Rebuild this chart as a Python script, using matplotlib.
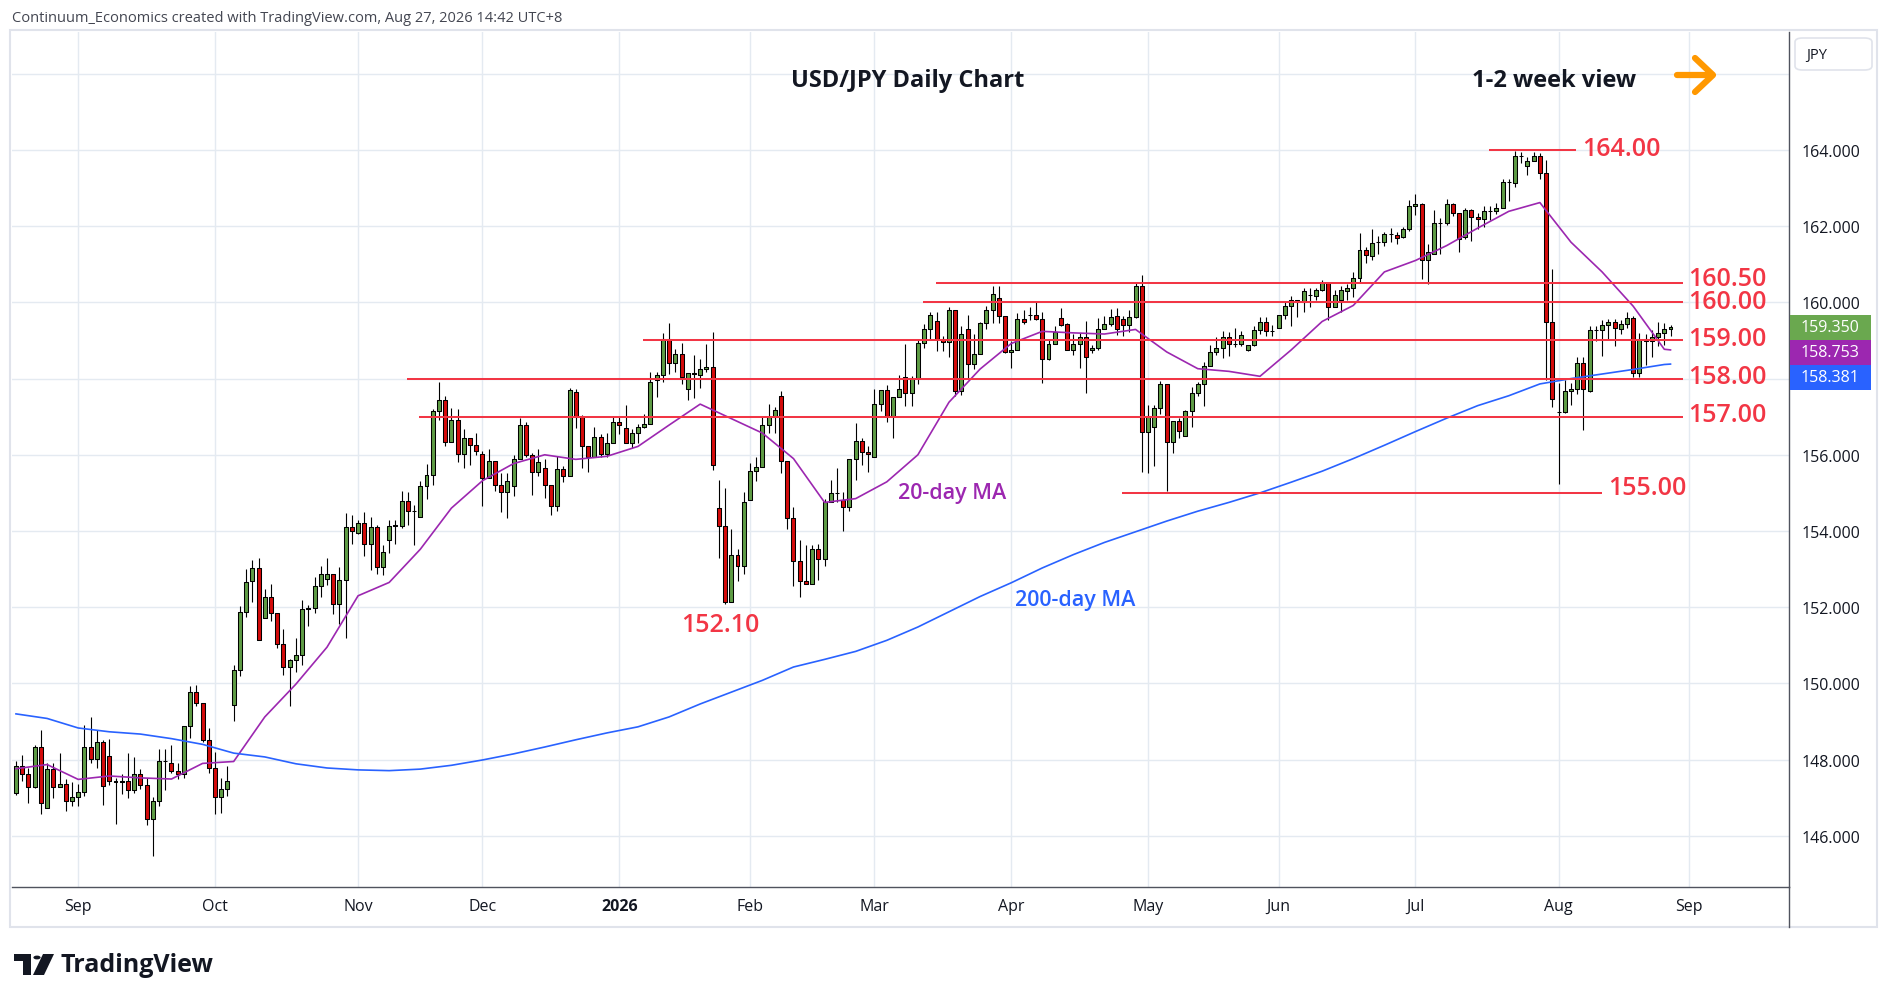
import numpy as np
import pandas as pd
import matplotlib
matplotlib.use("Agg")
import matplotlib.pyplot as plt
from matplotlib.patches import Rectangle, FancyBboxPatch, Polygon, Circle
from matplotlib.collections import LineCollection, PatchCollection
from matplotlib.lines import Line2D

# ---------------- data (USD/JPY daily) ----------------
first_day = "2025-08-18"
holidays = ["2025-12-25", "2026-01-01"]

opens = [
    147.13, 147.83, 147.63, 147.29, 148.34, 146.74, 147.76, 147.29, 147.37, 146.92,
    147.03, 147.16, 148.34, 148.01, 148.47, 148.10, 147.45, 147.40, 147.45, 147.19,
    147.63, 147.34, 146.45, 146.92, 147.95, 147.92, 147.69, 147.63, 148.89, 149.78,
    149.48, 148.52, 147.79, 147.03, 147.24, 149.42, 150.34, 151.88, 152.69, 153.04,
    151.72, 152.27, 151.85, 151.03, 150.44, 150.61, 150.74, 151.94, 151.98, 152.56,
    152.75, 152.87, 152.08, 152.71, 154.11, 153.95, 154.22, 153.66, 154.11, 153.06,
    153.76, 154.14, 154.14, 154.79, 154.53, 154.37, 155.19, 155.48, 157.15, 157.43,
    156.34, 156.91, 156.03, 156.45, 156.27, 156.03, 155.40, 155.85, 155.20, 155.03,
    155.17, 155.90, 156.79, 155.99, 155.56, 155.66, 155.20, 154.66, 155.64, 155.45,
    157.66, 156.99, 156.22, 155.95, 156.48, 156.03, 156.32, 156.85, 156.70, 156.32,
    156.58, 156.74, 156.82, 157.96, 158.10, 159.05, 158.42, 158.64, 157.74, 158.13,
    158.10, 158.24, 158.31, 154.61, 154.12, 152.14, 153.38, 153.07, 154.81, 155.58,
    155.69, 156.79, 157.00, 157.55, 155.84, 154.35, 153.21, 152.69, 152.62, 153.52,
    153.26, 154.75, 154.99, 154.81, 154.64, 155.88, 156.35, 156.08, 155.93, 157.34,
    157.69, 157.02, 157.53, 158.03, 157.63, 158.02, 158.94, 159.31, 159.51, 159.04,
    158.97, 159.81, 157.67, 159.29, 158.39, 158.65, 159.45, 159.79, 160.12, 159.64,
    158.70, 158.76, 159.57, 159.68, 159.68, 159.57, 158.52, 158.91, 159.59, 159.42,
    158.76, 158.92, 159.10, 158.74, 158.79, 159.31, 159.42, 159.63, 159.56, 159.41,
    159.61, 160.42, 156.59, 156.74, 157.22, 157.87, 156.33, 156.88, 156.50, 157.14,
    157.61, 157.86, 158.34, 158.71, 158.79, 159.08, 158.92, 158.92, 158.75, 158.88,
    159.28, 159.49, 159.26, 159.34, 159.67, 159.90, 160.06, 160.02, 160.19, 160.16,
    160.33, 160.52, 159.87, 160.05, 160.31, 160.37, 160.63, 161.38, 161.21, 161.58,
    161.58, 161.80, 161.78, 161.71, 161.93, 162.52, 162.57, 161.10, 161.27, 162.08,
    162.08, 162.57, 162.35, 161.71, 162.43, 162.25, 162.19, 162.39, 162.39, 162.47,
    163.15, 163.13, 163.85, 163.57, 163.72, 163.83, 163.39, 159.49, 157.13, 157.13,
    157.68, 157.74, 158.40, 157.68, 159.27, 159.27, 159.41, 159.48, 159.30, 159.43,
    159.58, 158.14, 159.04, 158.98, 159.08, 159.19, 159.30,
]
highs = [
    147.97, 148.11, 147.79, 148.39, 148.77, 147.92, 147.90, 148.17, 147.48, 147.40,
    147.37, 148.92, 149.13, 148.77, 148.51, 148.55, 147.53, 147.63, 148.17, 148.06,
    147.76, 147.53, 147.03, 148.27, 148.27, 148.37, 147.92, 148.89, 149.92, 149.96,
    149.48, 148.84, 148.21, 147.51, 147.82, 150.48, 152.04, 153.00, 153.25, 153.28,
    152.47, 152.62, 151.85, 151.42, 150.65, 151.20, 152.20, 152.07, 152.80, 153.08,
    153.28, 152.87, 153.06, 154.46, 154.43, 154.30, 154.50, 154.37, 154.15, 153.63,
    154.29, 154.29, 155.06, 155.03, 154.68, 155.32, 155.75, 157.19, 157.92, 157.55,
    157.22, 157.20, 156.69, 156.45, 156.58, 156.10, 156.16, 155.85, 155.53, 155.53,
    156.00, 156.96, 156.85, 156.06, 156.15, 155.88, 155.20, 155.97, 155.71, 157.76,
    157.72, 157.04, 156.22, 156.73, 156.54, 156.57, 156.98, 157.00, 157.30, 156.67,
    156.80, 157.06, 158.18, 158.18, 159.19, 159.45, 158.77, 158.93, 158.14, 158.61,
    158.52, 158.90, 159.22, 155.33, 155.12, 154.05, 153.52, 155.03, 155.78, 155.93,
    157.02, 157.33, 157.26, 157.68, 155.84, 154.63, 153.76, 153.63, 153.63, 153.65,
    154.85, 155.33, 155.65, 155.03, 155.88, 156.83, 156.43, 156.22, 157.74, 157.69,
    157.83, 157.53, 158.09, 158.90, 158.06, 159.04, 159.42, 159.74, 159.74, 159.13,
    159.88, 159.81, 159.38, 159.66, 159.17, 159.49, 159.90, 160.43, 160.44, 159.64,
    158.98, 159.73, 159.81, 159.88, 160.01, 159.74, 159.01, 159.38, 159.86, 159.46,
    159.16, 159.20, 159.51, 158.87, 159.59, 159.64, 159.83, 159.84, 159.65, 159.81,
    160.51, 160.73, 157.31, 157.31, 157.93, 157.87, 156.88, 156.96, 157.18, 157.79,
    157.92, 158.43, 158.88, 159.08, 159.26, 159.23, 159.34, 159.26, 158.88, 159.39,
    159.61, 159.61, 159.41, 159.67, 160.00, 160.17, 160.06, 160.39, 160.39, 160.39,
    160.59, 160.52, 160.33, 160.44, 160.48, 160.79, 161.81, 161.45, 161.93, 161.73,
    161.84, 161.94, 161.84, 161.97, 162.70, 162.85, 162.60, 161.53, 162.43, 162.21,
    162.71, 162.60, 162.35, 162.47, 162.45, 162.34, 162.54, 162.54, 162.60, 163.24,
    163.24, 163.98, 163.94, 163.81, 163.94, 163.92, 163.74, 160.88, 157.88, 157.97,
    157.88, 158.57, 158.57, 159.39, 159.39, 159.55, 159.56, 159.56, 159.55, 159.76,
    159.63, 159.20, 159.17, 159.27, 159.49, 159.46, 159.41,
]
lows = [
    147.06, 147.44, 146.86, 147.26, 146.57, 146.74, 147.00, 147.29, 146.65, 146.77,
    146.78, 147.05, 147.90, 147.79, 146.81, 147.34, 146.32, 147.11, 147.00, 147.13,
    147.24, 146.29, 145.47, 146.77, 147.20, 147.64, 147.48, 147.53, 148.57, 149.41,
    148.46, 147.66, 146.57, 146.61, 147.05, 149.01, 150.20, 151.74, 152.14, 151.14,
    151.72, 151.64, 150.93, 150.22, 149.40, 150.30, 150.48, 151.51, 151.85, 152.27,
    152.58, 151.81, 151.56, 151.19, 153.67, 153.93, 153.34, 152.97, 152.87, 152.84,
    153.43, 153.67, 154.07, 154.15, 153.63, 154.37, 154.84, 155.22, 156.91, 156.23,
    156.34, 155.81, 155.66, 155.73, 156.00, 154.66, 155.40, 155.05, 154.51, 154.35,
    154.92, 155.90, 155.94, 154.95, 155.45, 154.86, 154.41, 154.53, 155.29, 155.45,
    156.71, 155.66, 155.55, 155.95, 155.93, 155.93, 156.32, 156.54, 156.32, 156.17,
    156.32, 156.70, 156.82, 157.52, 157.91, 158.11, 158.17, 157.85, 157.44, 157.50,
    157.75, 158.17, 155.59, 153.30, 152.09, 152.14, 152.69, 152.86, 154.81, 155.30,
    155.69, 156.57, 156.58, 155.53, 154.06, 152.56, 152.28, 152.62, 152.62, 152.72,
    153.08, 154.75, 154.75, 154.00, 154.53, 155.34, 155.73, 155.55, 155.93, 157.15,
    156.86, 156.45, 157.53, 157.28, 157.28, 157.85, 158.79, 159.01, 158.72, 158.72,
    158.57, 157.54, 157.58, 158.00, 158.24, 158.65, 159.31, 159.46, 159.45, 158.68,
    158.28, 158.76, 159.44, 159.53, 159.55, 157.89, 158.50, 158.90, 159.38, 158.75,
    158.63, 158.28, 157.61, 158.68, 158.76, 159.29, 159.39, 159.14, 159.13, 159.21,
    159.58, 155.56, 155.51, 155.70, 157.07, 155.04, 156.04, 156.44, 156.50, 156.74,
    157.55, 157.29, 158.34, 158.63, 158.54, 158.60, 158.82, 158.86, 158.73, 158.85,
    159.17, 159.11, 159.11, 159.32, 159.56, 159.39, 159.61, 159.74, 159.87, 160.07,
    160.29, 159.55, 159.87, 159.76, 160.05, 160.13, 160.51, 161.03, 161.10, 161.27,
    161.47, 161.58, 161.53, 161.68, 161.88, 162.29, 160.61, 160.48, 161.27, 161.27,
    162.04, 162.26, 161.31, 161.66, 161.62, 161.93, 161.97, 162.15, 162.32, 162.47,
    162.67, 163.02, 163.66, 163.35, 163.72, 163.24, 157.97, 157.25, 155.23, 157.11,
    157.31, 157.59, 156.66, 157.64, 158.99, 158.60, 159.04, 158.86, 159.17, 159.34,
    158.05, 158.05, 158.36, 158.56, 158.85, 158.88, 159.13,
]
closes = [
    147.83, 147.63, 147.29, 148.34, 146.86, 147.76, 147.29, 147.37, 146.92, 147.03,
    147.16, 148.34, 148.01, 148.47, 147.32, 147.45, 147.40, 147.45, 147.19, 147.63,
    147.34, 146.45, 146.92, 147.97, 147.97, 147.69, 147.63, 148.89, 149.78, 149.48,
    148.52, 147.79, 147.03, 147.24, 147.45, 150.34, 151.88, 152.67, 153.04, 151.14,
    152.27, 151.85, 151.03, 150.44, 150.61, 150.74, 151.94, 151.98, 152.56, 152.87,
    152.87, 152.08, 152.71, 154.11, 154.00, 154.22, 153.66, 154.11, 153.06, 153.44,
    154.14, 154.15, 154.79, 154.53, 154.53, 155.19, 155.48, 157.15, 157.43, 156.34,
    156.91, 156.03, 156.45, 156.27, 156.11, 155.40, 155.85, 155.20, 155.03, 155.32,
    155.90, 156.79, 155.99, 155.56, 155.80, 155.20, 154.66, 155.64, 155.45, 157.69,
    156.99, 156.22, 155.95, 156.48, 156.03, 156.32, 156.85, 156.78, 156.32, 156.58,
    156.74, 156.82, 157.90, 158.10, 159.05, 158.42, 158.64, 158.04, 158.14, 158.14,
    158.24, 158.31, 155.73, 154.12, 152.14, 153.38, 153.07, 154.76, 155.58, 155.69,
    156.79, 157.00, 157.17, 155.84, 154.35, 153.21, 152.69, 152.62, 153.52, 153.26,
    154.75, 154.99, 155.01, 154.64, 155.88, 156.35, 156.08, 156.01, 157.34, 157.69,
    157.02, 157.53, 157.74, 157.63, 158.02, 158.94, 159.31, 159.68, 159.04, 158.97,
    159.81, 157.67, 159.17, 158.39, 158.65, 159.45, 159.79, 160.23, 159.64, 158.70,
    158.76, 159.57, 159.49, 159.68, 159.57, 158.52, 158.91, 159.23, 159.40, 158.76,
    158.92, 159.10, 158.57, 158.79, 159.31, 159.42, 159.62, 159.30, 159.41, 159.61,
    160.42, 156.59, 157.01, 157.22, 157.87, 156.33, 156.88, 156.63, 157.14, 157.61,
    157.86, 158.34, 158.71, 158.79, 159.08, 158.91, 158.92, 159.15, 158.88, 159.28,
    159.49, 159.26, 159.26, 159.67, 159.90, 160.06, 160.02, 160.29, 160.19, 160.33,
    160.52, 159.87, 160.19, 160.33, 160.37, 160.63, 161.38, 161.24, 161.55, 161.58,
    161.80, 161.80, 161.68, 161.93, 162.52, 162.57, 161.10, 161.31, 162.08, 162.08,
    162.57, 162.34, 161.66, 162.43, 162.23, 162.19, 162.39, 162.39, 162.47, 163.15,
    163.15, 163.83, 163.85, 163.72, 163.83, 163.39, 159.49, 157.46, 157.13, 157.68,
    157.74, 158.40, 157.74, 159.27, 159.27, 159.41, 159.48, 159.32, 159.43, 159.58,
    158.14, 159.02, 158.99, 159.08, 159.19, 159.30, 159.35,
]

# moving averages read every 5th session (plus the last session)
ma_sample_step = 5
ma20 = [
    147.76, 147.87, 147.48, 147.57, 147.52, 147.49, 147.90, 147.95, 149.12, 149.98,
    150.95, 152.30, 152.65, 153.52, 154.60, 155.32, 155.77, 156.00, 155.88, 155.96,
    156.22, 156.78, 157.33, 156.95, 156.57, 155.90, 154.75, 154.85, 155.29, 156.00,
    157.38, 158.25, 158.92, 159.24, 159.20, 159.17, 159.29, 158.70, 158.26, 158.19,
    158.06, 158.75, 159.50, 159.92, 160.80, 161.10, 161.49, 161.95, 162.39, 162.62,
    161.58, 160.80, 159.90, 158.77, 158.753,
]
ma200 = [
    149.20, 149.08, 148.83, 148.73, 148.67, 148.55, 148.40, 148.17, 148.07, 147.89,
    147.78, 147.73, 147.71, 147.75, 147.85, 147.99, 148.15, 148.33, 148.52, 148.70,
    148.86, 149.12, 149.46, 149.77, 150.08, 150.43, 150.63, 150.84, 151.13, 151.48,
    151.88, 152.28, 152.64, 153.03, 153.38, 153.70, 153.98, 154.26, 154.52, 154.75,
    155.00, 155.28, 155.57, 155.90, 156.25, 156.61, 156.96, 157.29, 157.55, 157.86,
    158.00, 158.12, 158.24, 158.37, 158.381,
]

levels = [164.00, 160.50, 160.00, 159.00, 158.00, 157.00, 155.00]
level_texts = ["164.00", "160.50", "160.00", "159.00", "158.00", "157.00", "155.00"]
low_text = "152.10"
price_ticks = [146, 148, 150, 152, 154, 156, 158, 160, 162, 164]
grid_prices = [146, 148, 150, 152, 154, 156, 158, 160, 162, 164, 166]

title = "USD/JPY Daily Chart"
view_text = "1-2 week view"
header = "Continuum_Economics created with TradingView.com, Aug 27, 2026 14:42 UTC+8"

# ---------------- styling ----------------
W, H = 1889, 1003
plt.rcParams['font.family'] = ['Open Sans', 'DejaVu Sans']
GREEN = "#5e9c45"
RED = "#d40b0b"
LEVEL = "#f23645"
PURPLE = "#9c27b0"
BLUE = "#2962ff"
GRID = "#e4eaf1"
TXT = "#131722"

fig = plt.figure(figsize=(W / 100, H / 100), dpi=100)
fig.patch.set_facecolor("white")


def fx(px):
    return px / W


def fy(py):
    return 1 - py / H


ax = fig.add_axes([fx(12), fy(888), fx(1789) - fx(12), fy(33) - fy(888)])
ax.set_facecolor("white")

o = np.array(opens)
hi = np.array(highs)
lo = np.array(lows)
c = np.array(closes)
n = len(c)
xs = np.arange(n)

# dates for the axis
all_days = pd.bdate_range(first_day, "2026-10-30")
all_days = all_days[~all_days.isin(pd.to_datetime(holidays))]

x_min, x_max = -0.64, 285.05
y_min, y_max = 144.656, 167.097
ax.set_xlim(x_min, x_max)
ax.set_ylim(y_min, y_max)

# grid lines
for gp in grid_prices:
    ax.axhline(gp, color=GRID, lw=1.0, zorder=0)
month_pos, month_lab = [], []
prev = None
for i, d in enumerate(all_days):
    key = (d.year, d.month)
    if key != prev:
        if prev is not None and x_min <= i <= x_max:
            month_pos.append(i)
            month_lab.append(str(d.year) if d.month == 1 else d.strftime("%b"))
        prev = key
for mp in month_pos:
    ax.axvline(mp, color=GRID, lw=1.0, zorder=0)

# candles
bw = 0.64
wicks = [[(xi, lo[i]), (xi, hi[i])] for i, xi in enumerate(xs)]
ax.add_collection(LineCollection(wicks, colors="black", linewidths=0.8, zorder=3))
rects, cols = [], []
for i, xi in enumerate(xs):
    b0 = min(o[i], c[i])
    b1 = max(o[i], c[i])
    rects.append(Rectangle((xi - bw / 2, b0), bw, b1 - b0))
    cols.append(GREEN if c[i] >= o[i] else RED)
ax.add_collection(PatchCollection(rects, facecolors=cols, edgecolors="black",
                                  linewidths=0.75, zorder=4))

# moving averages
ma_x = list(range(0, n - 1, ma_sample_step)) + [n - 1]
ax.plot(ma_x, ma20, color=PURPLE, lw=1.2, zorder=5, solid_joinstyle="round")
ax.plot(ma_x, ma200, color=BLUE, lw=1.2, zorder=5, solid_joinstyle="round")

# level lines and labels
level_span = {164.00: (236.8, 250.8), 160.50: (147.9, 268.0), 160.00: (145.8, 268.0),
              159.00: (100.8, 268.0), 158.00: (62.9, 268.0), 157.00: (64.8, 268.0),
              155.00: (177.8, 255.0)}
label_pos = {164.00: (251.8, 164.05), 160.50: (268.8, 160.64), 160.00: (268.8, 160.02),
             159.00: (268.8, 159.05), 158.00: (268.8, 158.05), 157.00: (268.8, 157.05),
             155.00: (256.0, 155.13)}
for lv, lt in zip(levels, level_texts):
    a, b = level_span[lv]
    ax.plot([a, b], [lv, lv], color=LEVEL, lw=1.45, zorder=6, solid_capstyle="butt")
    tx, ty = label_pos[lv]
    ax.text(tx, ty, lt, color=LEVEL, fontsize=18, fontweight="semibold",
            ha="left", va="center", zorder=7)
ax.text(113.2, 151.55, low_text, color=LEVEL, fontsize=18, fontweight="semibold",
        ha="center", va="center")
ax.text(141.8, 155.0, "20-day MA", color=PURPLE, fontsize=15.5, fontweight="semibold",
        ha="left", va="center")
ax.text(160.6, 152.2, "200-day MA", color=BLUE, fontsize=15.5, fontweight="semibold",
        ha="left", va="center")

# axes cosmetics
for s in ["top", "left"]:
    ax.spines[s].set_visible(False)
ax.spines["right"].set_color("#50535e")
ax.spines["bottom"].set_color("#50535e")
ax.spines["right"].set_linewidth(1.0)
ax.spines["bottom"].set_linewidth(1.0)
ax.yaxis.tick_right()
ax.set_yticks(price_ticks)
ax.set_yticklabels([f"{p:.3f}" for p in price_ticks], fontsize=11.5, color=TXT)
ax.tick_params(axis="y", length=0, pad=9)
ax.set_xticks(month_pos)
ax.set_xticklabels(month_lab, fontsize=11.5, color=TXT)
ax.tick_params(axis="x", length=0, pad=8)
for t in ax.get_xticklabels():
    if t.get_text().isdigit():
        t.set_fontweight("bold")

# outer pane frame and axis extension
fig.add_artist(Rectangle((fx(10), fy(928)), fx(1877) - fx(10), fy(31) - fy(928),
                         transform=fig.transFigure, fill=False, edgecolor="#e0e3eb", lw=1.5))
fig.add_artist(Line2D([fx(1789), fx(1789)], [fy(888), fy(928)], transform=fig.transFigure,
                      color="#50535e", lw=1.0))

# JPY box
fig.add_artist(FancyBboxPatch((fx(1795), fy(71)), fx(1872) - fx(1795), fy(39) - fy(71),
                              boxstyle="round,pad=0,rounding_size=0.004",
                              transform=fig.transFigure, facecolor="white",
                              edgecolor="#e0e3eb", lw=1.2))
fig.text(fx(1806), fy(55), "JPY", fontsize=10.5, color=TXT, ha="left", va="center")

# price tags
fig.canvas.draw()
y_last = ax.transData.transform((0, c[-1]))[1]
tags = [(f"{c[-1]:.3f}", "#6aa84f"), (f"{ma20[-1]:.3f}", PURPLE), (f"{ma200[-1]:.3f}", BLUE)]
for k, (txt, col) in enumerate(tags):
    yc = y_last - 25 * k
    fig.add_artist(Rectangle((fx(1790), (yc - 12.5) / H), fx(1871) - fx(1790), 25 / H,
                             transform=fig.transFigure, facecolor=col, edgecolor="none"))
    fig.text(fx(1830), yc / H, txt, color="white", fontsize=11.5, ha="center", va="center")

# titles
fig.text(fx(908), fy(81), title, fontsize=17, fontweight="bold", color=TXT,
         ha="center", va="center")
fig.text(fx(1472), fy(81), view_text, fontsize=17, fontweight="bold", color=TXT,
         ha="left", va="center")
arrow_col = "#ff9800"
fig.add_artist(Line2D([fx(1677), fx(1711)], [fy(76), fy(76)], transform=fig.transFigure,
                      color=arrow_col, lw=4.5, solid_capstyle="round"))
fig.add_artist(Line2D([fx(1695), fx(1713), fx(1695)], [fy(59), fy(76), fy(93)],
                      transform=fig.transFigure, color=arrow_col, lw=4.5,
                      solid_capstyle="round", solid_joinstyle="round"))
fig.text(fx(12), fy(19), header, fontsize=10.5, color="#434651", ha="left", va="center")

# TradingView logo
logo = "#131722"
fig.add_artist(Rectangle((fx(14), fy(962)), fx(31) - fx(14), fy(955) - fy(962),
                         transform=fig.transFigure, facecolor=logo, edgecolor="none"))
fig.add_artist(Rectangle((fx(23), fy(976)), fx(31) - fx(23), fy(955) - fy(976),
                         transform=fig.transFigure, facecolor=logo, edgecolor="none"))
fig.add_artist(Circle((fx(37), fy(958.5)), 3.6 / W, transform=fig.transFigure,
                      facecolor=logo, edgecolor="none"))
fig.add_artist(Polygon([(fx(43), fy(955)), (fx(54), fy(955)), (fx(44), fy(976)), (fx(33), fy(976))],
                       closed=True, transform=fig.transFigure, facecolor=logo, edgecolor="none"))
fig.text(fx(60), fy(966), "TradingView", fontsize=18, fontweight="bold", color=logo,
         ha="left", va="center")

fig.savefig("out.png", dpi=100, facecolor="white")
